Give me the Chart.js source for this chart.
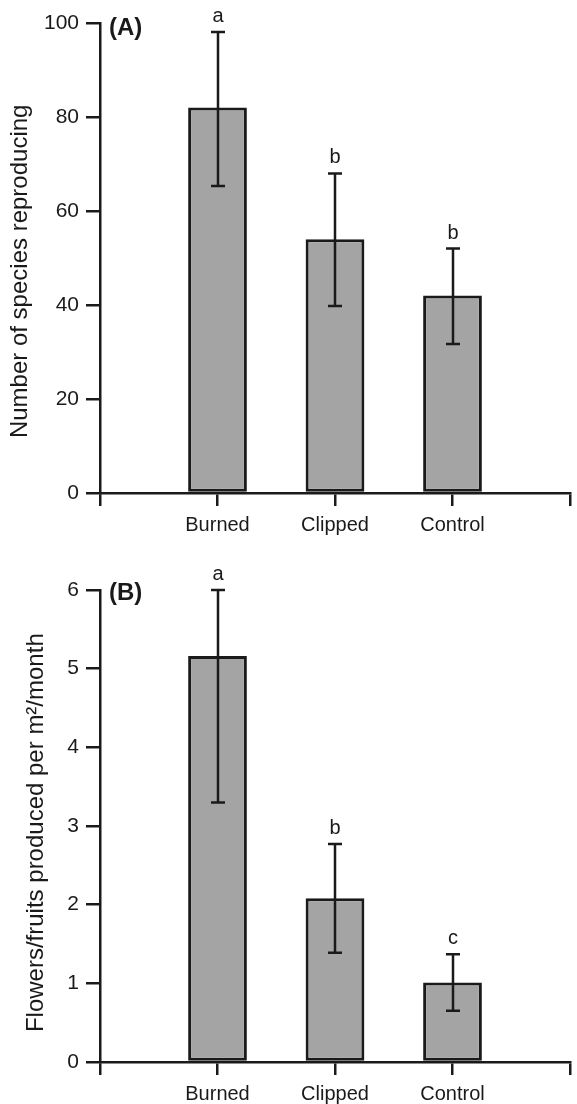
<!DOCTYPE html>
<html>
<head>
<meta charset="utf-8">
<script src="https://cdn.jsdelivr.net/npm/chart.js@4.4.1/dist/chart.umd.min.js"></script>
<style>
  html, body { margin: 0; padding: 0; background: #fff; }
  #wrap { position: relative; width: 577px; height: 1104px; }
  canvas { position: absolute; left: 0; }
  #chartA { top: 0; }
  #chartB { top: 545px; }
</style>
</head>
<body>
<div id="wrap">
  <canvas id="chartA" width="577" height="545"></canvas>
  <canvas id="chartB" width="577" height="559"></canvas>
</div>
<script>
// treatments, placed at x = 1, 2, 3 on an axis running 0..4
const categories = ["Burned", "Clipped", "Control"];

// (A) number of species reproducing
const speciesMean = [82, 54, 42];
const speciesLow = [65.3, 39.8, 31.7];
const speciesHigh = [98.1, 68, 52];
const speciesLetters = ["a", "b", "b"];
const speciesTicks = [0, 20, 40, 60, 80, 100];

// (B) flowers/fruits produced per m2/month
const flowersMean = [5.16, 2.08, 1.01];
const flowersLow = [3.3, 1.39, 0.65];
const flowersHigh = [6.0, 2.77, 1.37];
const flowersLetters = ["a", "b", "c"];
const flowersTicks = [0, 1, 2, 3, 4, 5, 6];

const FONT = "'Liberation Sans', Arial, Helvetica, sans-serif";
const INK = "#1a1a1a";
Chart.defaults.font.family = FONT;
Chart.defaults.color = INK;

// error bars, letters and panel tag
const extras = {
    id: "extras",
    afterDatasetsDraw(chart, args, opts) {
        const { ctx, chartArea } = chart;
        const x = chart.scales.x, y = chart.scales.y;
        ctx.save();
        ctx.strokeStyle = INK;
        ctx.lineWidth = 2.5;
        ctx.fillStyle = INK;
        opts.low.forEach((lo, i) => {
            const px = Math.round(x.getPixelForValue(i + 1));
            const yLo = y.getPixelForValue(lo);
            const yHi = y.getPixelForValue(opts.high[i]);
            ctx.beginPath();
            ctx.moveTo(px, yLo);
            ctx.lineTo(px, yHi);
            ctx.moveTo(px - 7, yHi);
            ctx.lineTo(px + 7, yHi);
            ctx.moveTo(px - 7, yLo);
            ctx.lineTo(px + 7, yLo);
            ctx.stroke();

            ctx.font = "20px " + FONT;
            ctx.textAlign = "center";
            ctx.textBaseline = "alphabetic";
            ctx.fillText(opts.letters[i], px, yHi - 10);
        });
        ctx.font = "bold 24px " + FONT;
        ctx.textAlign = "left";
        ctx.textBaseline = "middle";
        ctx.fillText(opts.tag, chartArea.left + 9, chartArea.top + opts.tagDy);
        ctx.restore();
    }
};

function makePanel(id, cfg) {
    return new Chart(document.getElementById(id), {
        type: "bar",
        data: {
            datasets: [{
                data: cfg.mean.map((v, i) => ({ x: i + 1, y: v })),
                backgroundColor: "#a4a4a4",
                borderColor: INK,
                borderWidth: 3,
                borderSkipped: false,
                barPercentage: 0.5,
                categoryPercentage: 1
            }]
        },
        plugins: [extras],
        options: {
            responsive: false,
            animation: false,
            devicePixelRatio: 1,
            layout: { padding: { top: cfg.top, right: 5, left: 0, bottom: 0 } },
            plugins: {
                legend: { display: false },
                tooltip: { enabled: false },
                extras: { low: cfg.low, high: cfg.high, letters: cfg.letters, tag: cfg.tag, tagDy: cfg.tagDy }
            },
            scales: {
                x: {
                    type: "linear",
                    min: 0,
                    max: 4,
                    offset: false,
                    ticks: {
                        stepSize: 1,
                        autoSkip: false,
                        maxRotation: 0,
                        padding: 7,
                        font: { size: 20 },
                        color: INK,
                        callback: (v) => categories[v - 1] || ""
                    },
                    grid: { offset: false, drawOnChartArea: false, drawTicks: true, tickLength: 13, color: INK, lineWidth: 2.5 },
                    border: { color: INK, width: 2.5 },
                    afterFit: (s) => { s.height = cfg.xHeight; }
                },
                y: {
                    min: cfg.ticks[0],
                    max: cfg.ticks[cfg.ticks.length - 1],
                    afterBuildTicks: (s) => { s.ticks = cfg.ticks.map((v) => ({ value: v })); },
                    ticks: { padding: 7, font: { size: 21 }, color: INK },
                    grid: { drawOnChartArea: false, drawTicks: true, tickLength: 14, color: INK, lineWidth: 2.5 },
                    border: { color: INK, width: 2.5 },
                    title: {
                        display: true,
                        text: cfg.title,
                        font: { size: 24 },
                        color: INK,
                        padding: { top: cfg.titlePad, bottom: 0 }
                    },
                    afterFit: (s) => { s.width = 100; }
                }
            }
        }
    });
}

// trailing spaces nudge the rotated title a little below the plot centre
makePanel("chartA", {
    mean: speciesMean, low: speciesLow, high: speciesHigh, letters: speciesLetters,
    ticks: speciesTicks, title: "Number of species reproducing    ",
    tag: "(A)", tagDy: 5, top: 23, xHeight: 52, titlePad: 6
});

makePanel("chartB", {
    mean: flowersMean, low: flowersLow, high: flowersHigh, letters: flowersLetters,
    ticks: flowersTicks, title: "Flowers/fruits produced per m\u00B2/month  ",
    tag: "(B)", tagDy: 3, top: 45, xHeight: 42, titlePad: 22
});
</script>
</body>
</html>
